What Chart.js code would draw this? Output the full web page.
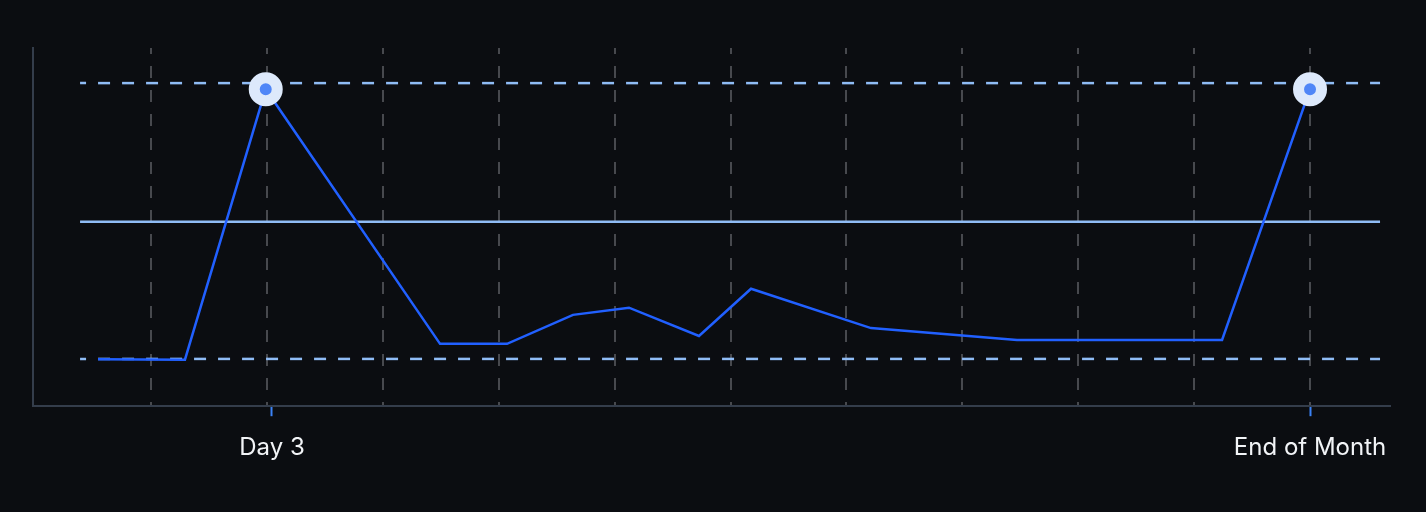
<!DOCTYPE html>
<html>
<head>
<meta charset="utf-8">
<script src="https://cdn.jsdelivr.net/npm/chart.js@4"></script>
<style>
  html, body { margin: 0; padding: 0; background: #0b0d11; }
  canvas { display: block; }
</style>
</head>
<body>
<canvas id="chart" width="1426" height="512"></canvas>
<script>
// days along the month (axis units), and the plotted values
const days = [0.543, 1.293, 1.99, 3.494, 4.072, 4.641, 5.124, 5.728, 6.177, 7.212, 8.472, 10.241, 11.0];
const values = [13.1, 13.0, 88.5, 17.4, 17.4, 25.5, 27.5, 19.6, 32.8, 21.8, 18.5, 18.5, 88.5];

// labelled ticks on the bottom axis
const tickDays = [2.044, 11.0];
const tickLabels = ['Day 3', 'End of Month'];

// week guides
const guideDays = [1, 2, 3, 4, 5, 6, 7, 8, 9, 10, 11];

// reference lines: upper, mean, lower
const refSpan = [0.388, 11.604];
const upperRef = 90.2;
const meanRef = 51.5;
const lowerRef = 13.2;

const xMin = -0.018;
const xMax = 11.69;

const peak = Math.max(...values);
const refLine = (v, dash) => ({
  data: refSpan.map((d) => ({ x: d, y: v })),
  borderColor: '#8fbcf5',
  borderWidth: 2.5,
  borderDash: dash,
  borderDashOffset: 6,
  pointRadius: 0,
  order: 2
});

new Chart(document.getElementById('chart'), {
  type: 'line',
  data: {
    datasets: [
      {
        data: days.map((d, i) => ({ x: d, y: values[i] })),
        borderColor: '#2160ff',
        borderWidth: 2.5,
        pointRadius: values.map((v) => (v === peak ? 11.5 : 0)),
        pointBackgroundColor: '#4f86f7',
        pointBorderColor: '#dde9fb',
        pointBorderWidth: 11,
        pointHoverRadius: 0,
        clip: false,
        order: 1
      },
      refLine(upperRef, [12, 12]),
      refLine(meanRef, []),
      refLine(lowerRef, [12, 12])
    ]
  },
  options: {
    responsive: false,
    animation: false,
    layout: { padding: { left: 33, right: 36, top: 48, bottom: 33 } },
    plugins: { legend: { display: false }, tooltip: { enabled: false } },
    scales: {
      x: {
        type: 'linear',
        min: xMin,
        max: xMax,
        afterBuildTicks: (axis) => { axis.ticks = tickDays.map((v) => ({ value: v })); },
        ticks: {
          callback: (v) => tickLabels[tickDays.indexOf(v)],
          color: '#f2f4f7',
          font: { family: 'Inter', size: 24 },
          padding: 17,
          maxRotation: 0,
          autoSkip: false
        },
        grid: { drawOnChartArea: false, tickColor: '#3b82f6', tickLength: 10, tickWidth: 2 },
        border: { color: '#343d4b', width: 2 }
      },
      x2: {
        type: 'linear',
        position: 'top',
        min: xMin,
        max: xMax,
        afterBuildTicks: (axis) => { axis.ticks = guideDays.map((v) => ({ value: v })); },
        ticks: { display: false },
        grid: { color: '#47494e', lineWidth: 2, drawTicks: false },
        border: { display: false, dash: [12, 12], dashOffset: 6 }
      },
      y: {
        min: 0,
        max: 100,
        ticks: { display: false },
        grid: { display: false, drawTicks: false },
        border: { color: '#343d4b', width: 2 }
      }
    }
  }
});
</script>
</body>
</html>
